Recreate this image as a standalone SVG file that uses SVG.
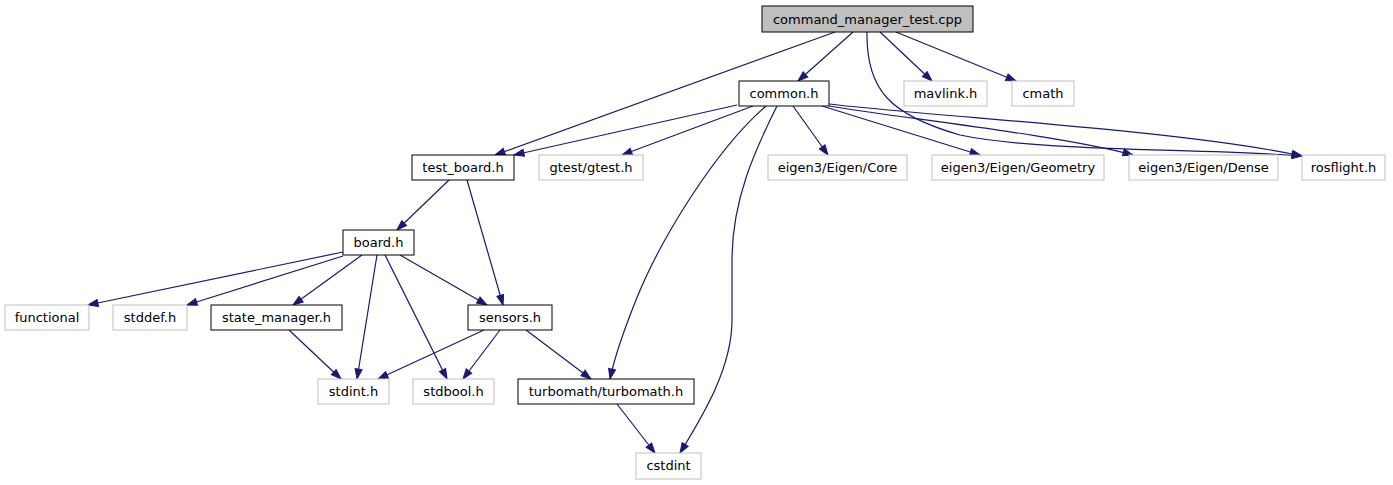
<svg xmlns="http://www.w3.org/2000/svg" width="1393" height="485" viewBox="0 0 1393 485">
<style>
.n rect{fill:#fff;stroke:#000;stroke-width:1}
.g rect{fill:#fff;stroke:#bfbfbf;stroke-width:1}
.r rect{fill:#bfbfbf;stroke:#000;stroke-width:1}
text{font-family:"DejaVu Sans",sans-serif;font-size:13px;text-anchor:middle;fill:#000}
#edges path{fill:none;stroke:#191970;stroke-width:1.2;marker-end:url(#a)}
</style>
<defs>
<marker id="a" markerUnits="userSpaceOnUse" markerWidth="12" markerHeight="9" refX="10" refY="3.5" orient="auto" overflow="visible">
<path d="M0,0 L10,3.5 L0,7 Z" fill="#191970" stroke="#191970" stroke-width="1"/>
</marker>
</defs>
<rect width="1393" height="485" fill="#fff"/>
<g id="edges">
<path d="M835,32 L495,155"/>
<path d="M853,32 L798,81"/>
<path d="M880,32 L932,81"/>
<path d="M896,32 L1016,81"/>
<path d="M867,32 C866,90 890,115 960,135 C1040,152 1200,148 1302,156"/>
<path d="M737,105 L514,155"/>
<path d="M753,106 L622,155"/>
<path d="M793,106 L828,155"/>
<path d="M822,106 L980,155"/>
<path d="M829,106 C900,118 1060,135 1133,155"/>
<path d="M829,104 C950,118 1180,130 1302,156"/>
<path d="M766,106 C715,150 660,240 636,300 C626,325 615,355 610,379"/>
<path d="M777,106 C755,150 732,200 732,260 L732,320 C732,370 700,420 680,453"/>
<path d="M449,180 L397,230"/>
<path d="M467,180 L503,305"/>
<path d="M343,252 L88,305"/>
<path d="M343,256 L187,305"/>
<path d="M362,255 L293,305"/>
<path d="M377,255 L357,379"/>
<path d="M385,255 L447,379"/>
<path d="M400,255 L487,305"/>
<path d="M289,330 L341,379"/>
<path d="M484,330 L378,379"/>
<path d="M500,330 L463,379"/>
<path d="M526,330 L591,379"/>
<path d="M617,404 L655,453"/>
</g>
<g id="cmt" class="r"><rect x="762" y="6" width="211" height="26"/><text x="867.5" y="23.5">command_manager_test.cpp</text></g>
<g id="common" class="n"><rect x="739" y="81" width="90" height="25"/><text x="784" y="98">common.h</text></g>
<g id="mavlink" class="g"><rect x="904" y="81" width="83" height="25"/><text x="945.5" y="98">mavlink.h</text></g>
<g id="cmath" class="g"><rect x="1012" y="81" width="62" height="25"/><text x="1043" y="98">cmath</text></g>
<g id="test_board" class="n"><rect x="412" y="155" width="102" height="25"/><text x="463" y="172">test_board.h</text></g>
<g id="gtest" class="g"><rect x="539" y="155" width="104" height="25"/><text x="591" y="172">gtest/gtest.h</text></g>
<g id="eigen_core" class="g"><rect x="768" y="155" width="139" height="25"/><text x="837.5" y="172">eigen3/Eigen/Core</text></g>
<g id="eigen_geometry" class="g"><rect x="932" y="155" width="172" height="25"/><text x="1018" y="172">eigen3/Eigen/Geometry</text></g>
<g id="eigen_dense" class="g"><rect x="1129" y="155" width="149" height="25"/><text x="1203.5" y="172">eigen3/Eigen/Dense</text></g>
<g id="rosflight" class="g"><rect x="1302" y="155" width="83" height="25"/><text x="1343.5" y="172">rosflight.h</text></g>
<g id="board" class="n"><rect x="343" y="230" width="71" height="25"/><text x="378.5" y="247">board.h</text></g>
<g id="functional" class="g"><rect x="5" y="305" width="84" height="25"/><text x="47" y="322">functional</text></g>
<g id="stddef" class="g"><rect x="113" y="305" width="74" height="25"/><text x="150" y="322">stddef.h</text></g>
<g id="state_manager" class="n"><rect x="211" y="305" width="131" height="25"/><text x="276.5" y="322">state_manager.h</text></g>
<g id="sensors" class="n"><rect x="468" y="305" width="84" height="25"/><text x="510" y="322">sensors.h</text></g>
<g id="stdint" class="g"><rect x="318" y="379" width="71" height="25"/><text x="353.5" y="396">stdint.h</text></g>
<g id="stdbool" class="g"><rect x="413" y="379" width="81" height="25"/><text x="453.5" y="396">stdbool.h</text></g>
<g id="turbomath" class="n"><rect x="518" y="379" width="176" height="25"/><text x="606" y="396">turbomath/turbomath.h</text></g>
<g id="cstdint" class="g"><rect x="636" y="453" width="65" height="26"/><text x="668.5" y="470">cstdint</text></g>
</svg>
